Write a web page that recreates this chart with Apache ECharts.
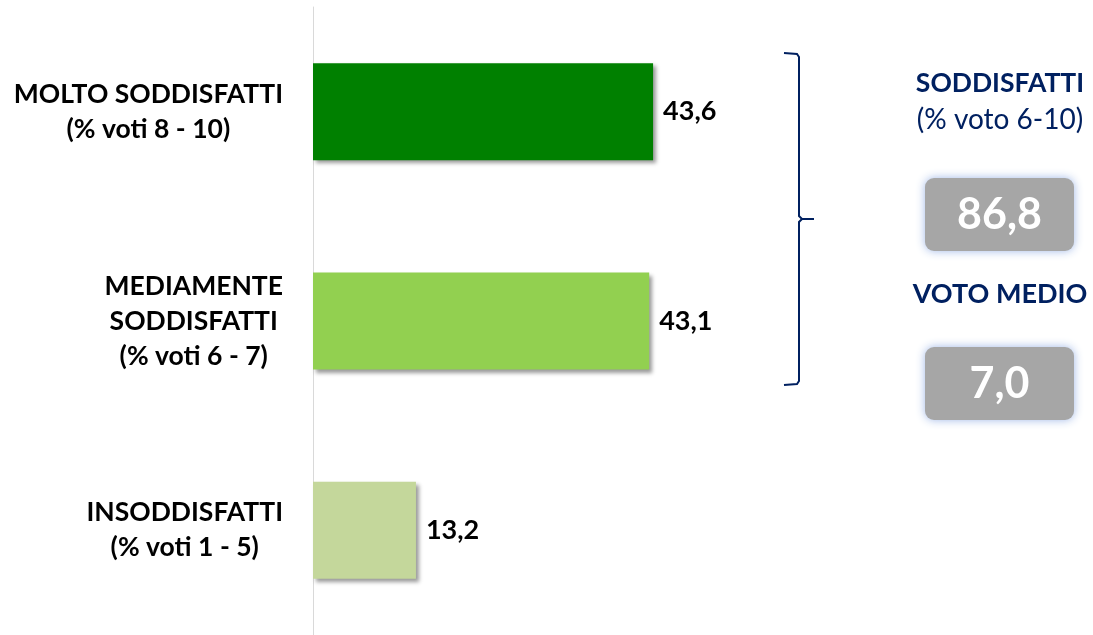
<!DOCTYPE html>
<html>
<head>
<meta charset="utf-8">
<title>Soddisfazione</title>
<script src="https://cdn.jsdelivr.net/npm/echarts@6/dist/echarts.min.js"></script>
<style>
  html, body { margin: 0; padding: 0; background: #fff; }
  #chart { width: 1093px; height: 635px; }
</style>
</head>
<body>
<div id="chart"></div>
<script>
(function () {
  'use strict';

  // ---- data ----
  const categories = [
    'MOLTO SODDISFATTI\n(% voti 8 - 10)',
    'MEDIAMENTE\nSODDISFATTI\n(% voti 6 - 7)',
    'INSODDISFATTI\n(% voti 1 - 5)'
  ];
  const values = [43.6, 43.1, 13.2];
  const barColors = ['#008000', '#92D050', '#C4D79B'];
  const sideTitle = 'SODDISFATTI';
  const sideSub = '(% voto 6-10)';
  const sideValue = 86.8;
  const avgTitle = 'VOTO MEDIO';
  const avgValue = 7.0;

  const FONT = 'Lato, "Open Sans", sans-serif';
  const NAVY = '#002060';
  const fmt = v => v.toFixed(1).replace('.', ',');

  // rich text so each line is centred inside the right-aligned block
  function catLabel(s) {
    return s.split('\n').map(l => '{c|' + l + '}').join('\n');
  }

  function valueBox(y, text) {
    return {
      type: 'group', left: 925, top: y,
      children: [
        {
          type: 'rect', shape: { x: 0, y: 0, width: 149, height: 73, r: 9 },
          style: { fill: '#A6A6A6', shadowColor: 'rgba(155,180,230,0.95)', shadowBlur: 10 }
        },
        {
          type: 'text', x: 74.5, y: 37,
          style: { text: text, fill: '#fff', font: 'bold 43px ' + FONT, align: 'center', verticalAlign: 'middle' }
        }
      ]
    };
  }

  const chart = echarts.init(document.getElementById('chart'), null, { renderer: 'canvas' });
  chart.setOption({
    backgroundColor: '#fff',
    animation: false,
    grid: { left: 313, top: 7, width: 468, height: 630 },
    xAxis: {
      type: 'value', min: 0, max: 60,
      show: false, splitLine: { show: false }
    },
    yAxis: {
      type: 'category', inverse: true, data: categories,
      axisLine: { show: true, lineStyle: { color: '#D9D9D9', width: 1 } },
      axisTick: { show: false },
      axisLabel: {
        margin: 30, align: 'right',
        formatter: catLabel,
        rich: {
          c: { align: 'center', fontFamily: FONT, fontWeight: 'bold', fontSize: 26.5, color: '#000', lineHeight: 35 }
        }
      }
    },
    series: [{
      type: 'bar', barWidth: 97,
      data: values.map((v, i) => ({ value: v, itemStyle: { color: barColors[i] } })),
      itemStyle: { shadowColor: 'rgba(0,0,0,0.4)', shadowBlur: 4, shadowOffsetX: 3, shadowOffsetY: 3 },
      label: {
        show: true, position: 'right', distance: 10,
        formatter: p => fmt(p.value),
        fontFamily: FONT, fontWeight: 'bold', fontSize: 27, color: '#000'
      }
    }],
    graphic: [
      {
        type: 'polyline',
        shape: { points: [[784, 53], [797, 54], [799, 57], [799, 216], [802, 219], [814, 219], [802, 219], [799, 222], [799, 381], [797, 384], [784, 385]] },
        style: { stroke: NAVY, lineWidth: 2, fill: null }
      },
      { type: 'text', x: 1000, y: 83, style: { text: sideTitle, fill: NAVY, font: 'bold 26.5px ' + FONT, align: 'center', verticalAlign: 'middle' } },
      { type: 'text', x: 1000, y: 120, style: { text: sideSub, fill: NAVY, font: '28px ' + FONT, align: 'center', verticalAlign: 'middle' } },
      valueBox(178, fmt(sideValue)),
      { type: 'text', x: 1000, y: 294, style: { text: avgTitle, fill: NAVY, font: 'bold 27px ' + FONT, align: 'center', verticalAlign: 'middle' } },
      valueBox(347, fmt(avgValue))
    ]
  });
})();
</script>
</body>
</html>
